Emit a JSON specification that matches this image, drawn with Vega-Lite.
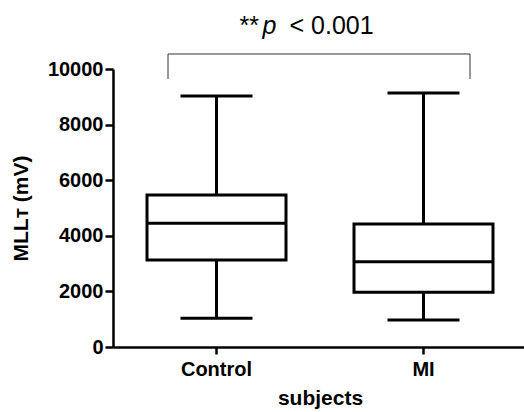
{
  "$schema": "https://vega.github.io/schema/vega-lite/v6.json",
  "autosize": {"type": "none"},
  "padding": {"left": 113, "top": 69, "right": 0, "bottom": 65},
  "width": 414,
  "height": 278,
  "background": "white",
  "config": {
    "view": {"stroke": null},
    "font": "Liberation Sans",
    "axis": {
      "domainColor": "black",
      "domainWidth": 2.5,
      "tickColor": "black",
      "tickWidth": 2.5,
      "grid": false,
      "labelColor": "black",
      "titleColor": "black",
      "labelFont": "Liberation Sans",
      "titleFont": "Liberation Sans",
      "labelFontWeight": "bold",
      "titleFontWeight": "bold"
    }
  },
  "data": {
    "values": [
      {"group": "Control", "min": 1030, "q1": 3130, "median": 4450, "q3": 5470, "max": 9030},
      {"group": "MI", "min": 970, "q1": 1970, "median": 3070, "q3": 4420, "max": 9140}
    ]
  },
  "layer": [
    {
      "mark": {"type": "rule", "strokeWidth": 3, "color": "black"},
      "encoding": {
        "x": {
          "field": "group", "type": "nominal",
          "scale": {"domain": ["Control", "MI"], "paddingInner": 0, "paddingOuter": 0},
          "axis": {"title": "subjects", "labelAngle": 0, "labelFontSize": 20, "titleFontSize": 21, "tickSize": 7, "labelPadding": 5, "titlePadding": 8}
        },
        "y": {
          "field": "min", "type": "quantitative",
          "scale": {"domain": [0, 10000], "nice": false},
          "axis": {"title": "MLLᴛ (mV)", "format": "d", "values": [0, 2000, 4000, 6000, 8000, 10000], "labelFontSize": 20, "titleFontSize": 21, "tickSize": 8, "labelPadding": 2, "titlePadding": 16}
        },
        "y2": {"field": "max"}
      }
    },
    {
      "mark": {"type": "bar", "width": 139, "fill": "white", "stroke": "black", "strokeWidth": 3, "opacity": 1},
      "encoding": {
        "x": {"field": "group", "type": "nominal"},
        "y": {"field": "q1", "type": "quantitative"},
        "y2": {"field": "q3"}
      }
    },
    {
      "mark": {"type": "tick", "size": 139, "thickness": 3, "color": "black", "opacity": 1},
      "encoding": {
        "x": {"field": "group", "type": "nominal"},
        "y": {"field": "median", "type": "quantitative"}
      }
    },
    {
      "mark": {"type": "tick", "size": 72, "thickness": 3, "color": "black", "opacity": 1},
      "encoding": {
        "x": {"field": "group", "type": "nominal"},
        "y": {"field": "min", "type": "quantitative"}
      }
    },
    {
      "mark": {"type": "tick", "size": 72, "thickness": 3, "color": "black", "opacity": 1},
      "encoding": {
        "x": {"field": "group", "type": "nominal"},
        "y": {"field": "max", "type": "quantitative"}
      }
    },
    {
      "data": {"values": [{}]},
      "mark": {"type": "rule", "strokeWidth": 1, "color": "#333333", "xOffset": -48.5, "x2Offset": 46.5, "clip": false},
      "encoding": {
        "x": {"datum": "Control", "type": "nominal"},
        "x2": {"datum": "MI"},
        "y": {"datum": 10540, "type": "quantitative"}
      }
    },
    {
      "data": {"values": [{}]},
      "mark": {"type": "rule", "strokeWidth": 1, "color": "#333333", "xOffset": -48.5, "clip": false},
      "encoding": {
        "x": {"datum": "Control", "type": "nominal"},
        "y": {"datum": 9640, "type": "quantitative"},
        "y2": {"datum": 10540}
      }
    },
    {
      "data": {"values": [{}]},
      "mark": {"type": "rule", "strokeWidth": 1, "color": "#333333", "xOffset": 46.5, "clip": false},
      "encoding": {
        "x": {"datum": "MI", "type": "nominal"},
        "y": {"datum": 9640, "type": "quantitative"},
        "y2": {"datum": 10540}
      }
    },
    {
      "data": {"values": [{"t": "**"}]},
      "mark": {"type": "text", "align": "left", "baseline": "alphabetic", "fontSize": 25, "font": "Liberation Sans", "color": "black", "xOffset": 23, "clip": false},
      "encoding": {
        "x": {"datum": "Control", "type": "nominal"},
        "y": {"datum": 11260, "type": "quantitative"},
        "text": {"field": "t"}
      }
    },
    {
      "data": {"values": [{"t": "p"}]},
      "mark": {"type": "text", "align": "left", "baseline": "alphabetic", "fontSize": 25, "fontStyle": "italic", "font": "Liberation Sans", "color": "black", "xOffset": 46, "clip": false},
      "encoding": {
        "x": {"datum": "Control", "type": "nominal"},
        "y": {"datum": 11260, "type": "quantitative"},
        "text": {"field": "t"}
      }
    },
    {
      "data": {"values": [{"t": "< 0.001"}]},
      "mark": {"type": "text", "align": "left", "baseline": "alphabetic", "fontSize": 25, "font": "Liberation Sans", "color": "black", "xOffset": 73, "clip": false},
      "encoding": {
        "x": {"datum": "Control", "type": "nominal"},
        "y": {"datum": 11260, "type": "quantitative"},
        "text": {"field": "t"}
      }
    }
  ]
}
